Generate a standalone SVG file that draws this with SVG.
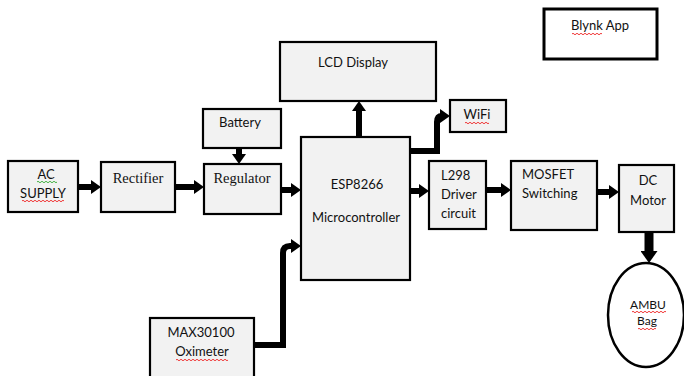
<svg xmlns="http://www.w3.org/2000/svg" width="684" height="376" viewBox="0 0 684 376">
<style>
.box{fill:#f2f2f2;stroke:#000;stroke-width:2.2}
.t{font-family:Lato,"Liberation Sans",sans-serif;font-size:13px;fill:#111}
.s{font-family:"Liberation Serif",serif;font-size:14.5px;fill:#111}
.c{stroke:#000;stroke-width:6;fill:none}
.r{fill:none;stroke:#e22;stroke-width:0.9}
.g{fill:none;stroke:#3a3;stroke-width:0.9}
</style>
<defs>
<marker id="ah" markerUnits="userSpaceOnUse" markerWidth="10" markerHeight="14" refX="2" refY="7" orient="auto"><path d="M0,0 L10,7 L0,14 z" fill="#000"/></marker>
<marker id="ahb" markerUnits="userSpaceOnUse" markerWidth="12" markerHeight="17" refX="2" refY="8.5" orient="auto"><path d="M0,0 L12,8.5 L0,17 z" fill="#000"/></marker>
</defs>
<rect width="684" height="376" fill="#fff"/>
<g id="connectors">
<path class="c" d="M78,187 H93" marker-end="url(#ah)"/>
<path class="c" d="M175,187 H196" marker-end="url(#ah)"/>
<path class="c" d="M281,190 H293" marker-end="url(#ah)"/>
<path class="c" d="M239,148 V156" marker-end="url(#ah)"/>
<path class="c" d="M359,137 V109" marker-end="url(#ah)"/>
<path class="c" d="M410,151 H437 V122 Q437,116 442,116" marker-end="url(#ah)"/>
<path class="c" d="M410,191 H421" marker-end="url(#ah)"/>
<path class="c" d="M486,190 H503" marker-end="url(#ah)"/>
<path class="c" d="M597,192 H611" marker-end="url(#ah)"/>
<path class="c" style="stroke-width:9" d="M649,232 V253" marker-end="url(#ahb)"/>
<path class="c" d="M254,345 H283 V253 Q283,246 290,246 H293" marker-end="url(#ah)"/>
</g>
<g id="ac-supply">
<rect class="box" x="8" y="161" width="70" height="51"/>
<text class="t" x="46" y="179" text-anchor="middle">AC</text>
<text class="t" x="43" y="198" text-anchor="middle">SUPPLY</text>
<path class="g" d="M37,182 q1,-1.5 2,0 t2,0 t2,0 t2,0 t2,0 t2,0 t2,0 t2,0 t2,0 t2,0"/>
<path class="r" d="M22,201 q1,-1.5 2,0 t2,0 t2,0 t2,0 t2,0 t2,0 t2,0 t2,0 t2,0 t2,0 t2,0 t2,0 t2,0 t2,0 t2,0 t2,0 t2,0 t2,0 t2,0 t2,0 t2,0"/>
</g>
<g id="rectifier">
<rect class="box" x="101" y="162" width="74" height="50"/>
<text class="s" x="138" y="183" text-anchor="middle">Rectifier</text>
</g>
<g id="regulator">
<rect class="box" x="204" y="164" width="77" height="50"/>
<text class="s" x="242" y="183" text-anchor="middle">Regulator</text>
</g>
<g id="battery">
<rect class="box" x="203" y="109" width="78" height="39"/>
<text class="t" x="240" y="127" text-anchor="middle">Battery</text>
</g>
<g id="esp8266">
<rect class="box" x="301" y="137" width="109" height="143"/>
<text class="t" x="357" y="189" text-anchor="middle">ESP8266</text>
<text class="t" x="356" y="222" text-anchor="middle">Microcontroller</text>
</g>
<g id="lcd">
<rect class="box" x="280" y="42" width="156" height="59"/>
<text class="t" x="318" y="67">LCD Display</text>
</g>
<g id="wifi">
<rect class="box" x="450" y="100" width="56" height="32"/>
<text class="t" x="477" y="119" text-anchor="middle">WiFi</text>
<path class="r" d="M465,123 q1,-1.5 2,0 t2,0 t2,0 t2,0 t2,0 t2,0 t2,0 t2,0 t2,0 t2,0 t2,0 t2,0"/>
</g>
<g id="blynk">
<rect x="544" y="9" width="113" height="50" fill="#fff" stroke="#000" stroke-width="3"/>
<text class="t" x="600" y="30" text-anchor="middle">Blynk App</text>
<path class="r" d="M572,34 q1,-1.5 2,0 t2,0 t2,0 t2,0 t2,0 t2,0 t2,0 t2,0 t2,0 t2,0 t2,0 t2,0 t2,0 t2,0 t2,0"/>
</g>
<g id="l298">
<rect class="box" x="429" y="161" width="57" height="68"/>
<text class="t" x="441" y="180">L298</text>
<text class="t" x="441" y="199">Driver</text>
<text class="t" x="441" y="218">circuit</text>
</g>
<g id="mosfet">
<rect class="box" x="511" y="161" width="86" height="69"/>
<text class="t" x="522" y="179">MOSFET</text>
<text class="t" x="522" y="198">Switching</text>
</g>
<g id="dc-motor">
<rect class="box" x="619" y="165" width="55" height="67"/>
<text class="t" x="648" y="185" text-anchor="middle">DC</text>
<text class="t" x="648" y="205" text-anchor="middle">Motor</text>
</g>
<g id="ambu">
<ellipse cx="646" cy="315" rx="38" ry="52" fill="#fff" stroke="#000" stroke-width="2.5"/>
<text class="t" x="648" y="309" text-anchor="middle" style="font-size:12px">AMBU</text>
<text class="t" x="647" y="325" text-anchor="middle" style="font-size:12px">Bag</text>
<path class="r" d="M632,312 q1,-1.5 2,0 t2,0 t2,0 t2,0 t2,0 t2,0 t2,0 t2,0 t2,0 t2,0 t2,0 t2,0 t2,0 t2,0 t2,0 t2,0 t2,0"/>
<path class="r" d="M638,329 q1,-1.5 2,0 t2,0 t2,0 t2,0 t2,0 t2,0 t2,0 t2,0 t2,0"/>
</g>
<g id="max30100">
<rect class="box" x="150" y="318" width="104" height="62"/>
<text class="t" x="201" y="337" text-anchor="middle">MAX30100</text>
<text class="t" x="202" y="356" text-anchor="middle">Oximeter</text>
<path class="r" d="M176,360 q1,-1.5 2,0 t2,0 t2,0 t2,0 t2,0 t2,0 t2,0 t2,0 t2,0 t2,0 t2,0 t2,0 t2,0 t2,0 t2,0 t2,0 t2,0 t2,0 t2,0 t2,0 t2,0 t2,0 t2,0 t2,0 t2,0 t2,0"/>
</g>
</svg>
